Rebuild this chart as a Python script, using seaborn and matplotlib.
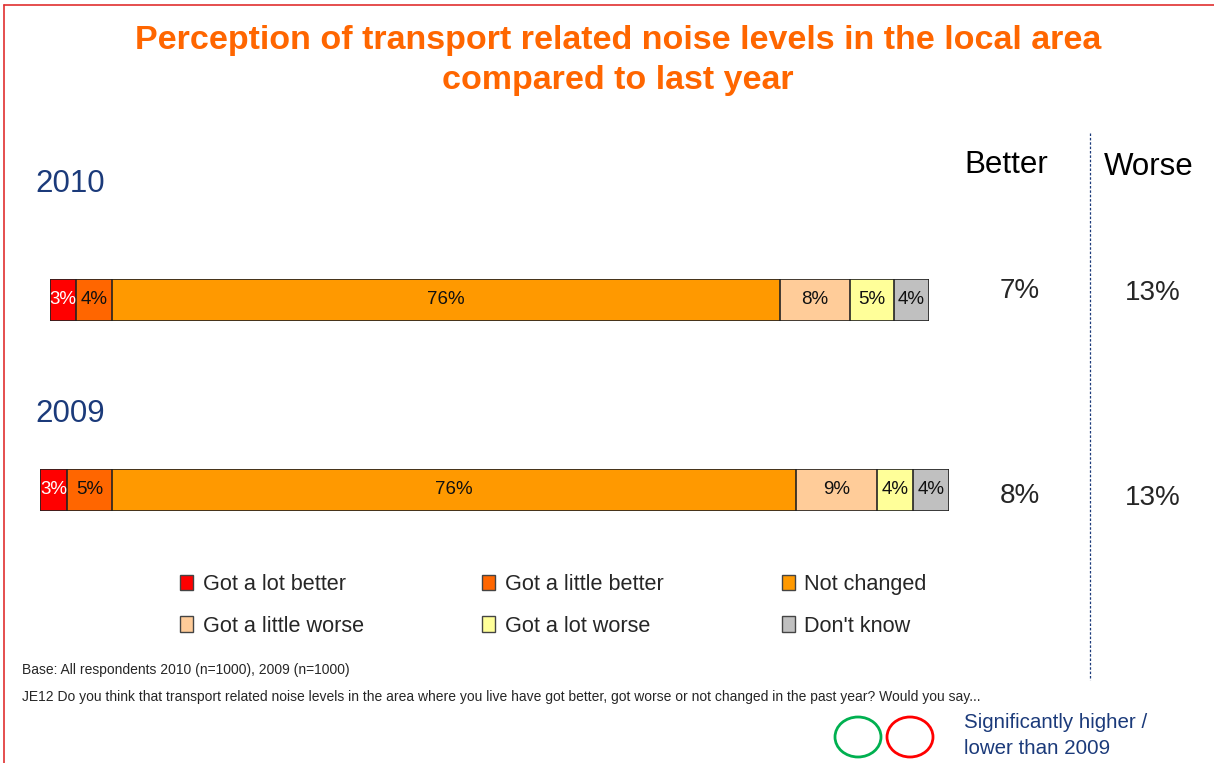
import numpy as np
import pandas as pd
import seaborn as sns
import matplotlib.pyplot as plt
from matplotlib.patches import Patch, Ellipse
from matplotlib.lines import Line2D

sns.set_theme(style="white")
plt.rcParams['font.family'] = ['Liberation Sans', 'DejaVu Sans']

# data
categories = ["Got a lot better", "Got a little better", "Not changed",
              "Got a little worse", "Got a lot worse", "Don't know"]
colors = ["#FF0000", "#FF6600", "#FF9900", "#FFCC99", "#FFFF99", "#C0C0C0"]
years = ["2010", "2009"]
values_2010 = [3, 4, 76, 8, 5, 4]
values_2009 = [3, 5, 76, 9, 4, 4]
better = [7, 8]
worse = [13, 13]

W, H = 1214, 763
NAVY = "#1B3A7A"
ORANGE = "#FF6600"


def fx(x):
    return x / W


def fy(y):
    return 1 - y / H


fig = plt.figure(figsize=(W / 100, H / 100), dpi=100)

# pixel boxes of the two bars (left, top, right, bottom)
boxes = {"2010": (50, 279, 929, 321), "2009": (40, 469, 949, 511)}
year_values = {"2010": values_2010, "2009": values_2009}

for year in years:
    l, t, r, b = boxes[year]
    ax = fig.add_axes([fx(l), fy(b), fx(r - l), (b - t) / H])
    vals = year_values[year]
    df = pd.DataFrame({"category": categories, "value": vals, "year": year})
    df["end"] = df["value"].cumsum()
    # stacking: draw the longest cumulative bar first, shorter ones on top
    for i in range(len(df) - 1, -1, -1):
        sns.barplot(data=df.iloc[[i]], x="end", y="year", orient="h",
                    color=colors[i], saturation=1, width=1.0,
                    edgecolor="#222222", linewidth=1.2, ax=ax)
    for i, row in df.iterrows():
        ax.text(row["end"] - row["value"] / 2, 0, f"{row['value']}%",
                ha="center", va="center", fontsize=13.5,
                color="white" if i == 0 else "#111111")
    ax.set_xlim(0, df["end"].iloc[-1])
    ax.set_ylim(0.5, -0.5)
    ax.axis("off")

# titles
fig.text(fx(618), fy(40), "Perception of transport related noise levels in the local area",
         ha="center", va="center", fontsize=24.5, fontweight="bold", color=ORANGE)
fig.text(fx(618), fy(80), "compared to last year",
         ha="center", va="center", fontsize=24.5, fontweight="bold", color=ORANGE)

# year labels
fig.text(fx(35), fy(184), years[0], ha="left", va="center", fontsize=22.5, color=NAVY)
fig.text(fx(35), fy(414), years[1], ha="left", va="center", fontsize=22.5, color=NAVY)

# net columns
fig.text(fx(1006), fy(165), "Better", ha="center", va="center", fontsize=22.5, color="black")
fig.text(fx(1149), fy(167), "Worse", ha="center", va="center", fontsize=22.5, color="black")
for yy, bv, wv in zip([291, 496], better, worse):
    fig.text(fx(1020), fy(yy), f"{bv}%", ha="center", va="center", fontsize=20)
    fig.text(fx(1153), fy(yy + 2), f"{wv}%", ha="center", va="center", fontsize=20)

fig.add_artist(Line2D([fx(1090), fx(1090)], [fy(133), fy(680)], color=NAVY,
                      lw=0.9, ls=(0, (2, 1.5)), transform=fig.transFigure))

# legend (column-wise fill, so reorder for row reading)
order = [0, 3, 1, 4, 2, 5]
handles = [Patch(facecolor=colors[i], edgecolor="#444444", lw=1) for i in order]
labels = [categories[i] for i in order]
fig.legend(handles, labels, loc="upper left", bbox_to_anchor=(fx(180), fy(574)),
           ncol=3, frameon=False, fontsize=15.6, handlelength=0.6, handleheight=0.75,
           handletextpad=0.45, columnspacing=5.45, labelspacing=0.965,
           borderpad=0, borderaxespad=0)

# footnotes
fig.text(fx(22), fy(670), "Base: All respondents 2010 (n=1000), 2009 (n=1000)",
         ha="left", va="center", fontsize=10)
fig.text(fx(22), fy(697),
         "JE12 Do you think that transport related noise levels in the area where you live have got better, "
         "got worse or not changed in the past year? Would you say...",
         ha="left", va="center", fontsize=10)

# significance key
fig.add_artist(Ellipse((fx(858), fy(737)), 46 / W, 40 / H, transform=fig.transFigure,
                       fill=False, ec="#00B050", lw=2))
fig.add_artist(Ellipse((fx(910), fy(737)), 46 / W, 40 / H, transform=fig.transFigure,
                       fill=False, ec="#FF0000", lw=2))
fig.text(fx(964), fy(723), "Significantly higher /", ha="left", va="center",
         fontsize=14.8, color=NAVY)
fig.text(fx(964), fy(748), "lower than 2009", ha="left", va="center",
         fontsize=14.8, color=NAVY)

# red frame on top and left
fig.add_artist(Line2D([fx(4), 1], [fy(5), fy(5)], color="#E03030", lw=1.2,
                      transform=fig.transFigure))
fig.add_artist(Line2D([fx(4), fx(4)], [fy(5), 0], color="#E03030", lw=1.2,
                      transform=fig.transFigure))

fig.savefig("out.png", dpi=100)
